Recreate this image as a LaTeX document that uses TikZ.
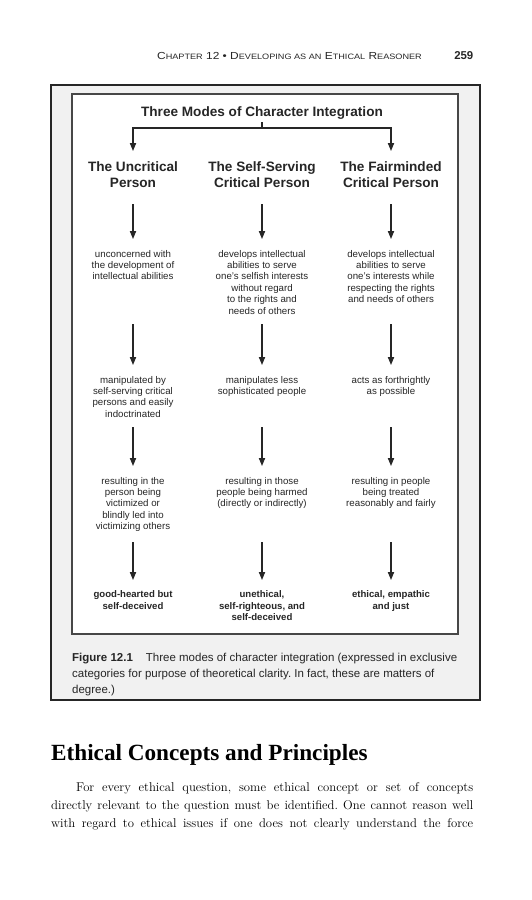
\documentclass[tikz,border=0pt]{standalone}
\usepackage{graphicx}
\usepackage{fontspec}
\usetikzlibrary{arrows.meta}
\newfontfamily\dsans{Liberation Sans}
\newfontfamily\dserif{Liberation Serif}
\definecolor{framegray}{HTML}{F1F1F1}
\definecolor{ink}{HTML}{262626}
\newcommand\hsmc[1]{{\fontsize{7.8}{9}\selectfont #1}}
\frenchspacing
\begin{document}
\begin{tikzpicture}[x=1pt,y=-1pt,
  every node/.style={inner sep=0pt},
  arr/.style={draw=ink, line width=1.2pt, -{Triangle[length=8pt,width=6.2pt]}},
  link/.style={draw=ink, line width=1.2pt},
  head/.style={font=\dsans\fontsize{13.6}{16}\selectfont\bfseries, align=center, anchor=north, outer ysep=11pt, text=ink},
  body/.style={font=\dsans\fontsize{9.7}{11.45}\selectfont, align=center, anchor=north, outer ysep=11pt, text=ink},
  fin/.style={body, font=\dsans\fontsize{9.6}{11.3}\selectfont\bfseries},
  para/.style={anchor=base west, font=\fontsize{12.7}{17.8}\selectfont, text=black},
]
\useasboundingbox (0,0) rectangle (531,900);
\fill[white] (0,0) rectangle (531,900);

% running head
\node[anchor=base west, font=\dsans\fontsize{10.2}{12}\selectfont, text=ink] (runhead) at (157,59.3)
  {\scalebox{1.17}[1]{C\hsmc{HAPTER} 12 • D\hsmc{EVELOPING AS AN} E\hsmc{THICAL} R\hsmc{EASONER}}};
\node[anchor=base east, font=\dsans\fontsize{11.4}{12}\selectfont\bfseries, text=ink] (pg) at (473.5,59.3) {259};

% frames
\draw[fill=framegray, draw=ink, line width=1.3pt] (51,85) rectangle (480,700);
\draw[fill=white, draw=ink!85, line width=1.2pt] (72,94) rectangle (458,634);

% title and branching
\node[font=\dsans\fontsize{13.6}{16}\selectfont\bfseries, anchor=base, outer ysep=2.5pt, text=ink] (title) at (262,116.7) {Three Modes of Character Integration};
\coordinate (j) at (262,128);

\node[head] (h1) at (133,151) {The Uncritical\\Person};
\node[head] (h2) at (262,151) {The Self-Serving\\Critical Person};
\node[head] (h3) at (391,151) {The Fairminded\\Critical Person};

\draw[link] (title.south) -- (j);
\draw[arr] (j) -| (h1.north);
\draw[arr] (j) -| (h3.north);

% row 1
\node[body] (u1) at (133,239) {unconcerned with\\the development of\\intellectual abilities};
\node[body] (s1) at (262,239) {develops intellectual\\abilities to serve\\one’s selfish interests\\without regard\\to the rights and\\needs of others};
\node[body] (f1) at (391,239) {develops intellectual\\abilities to serve\\one’s interests while\\respecting the rights\\and needs of others};

% row 2
\node[body] (u2) at (133,365) {manipulated by\\self-serving critical\\persons and easily\\indoctrinated};
\node[body] (s2) at (262,365) {manipulates less\\sophisticated people};
\node[body] (f2) at (391,365) {acts as forthrightly\\as possible};

% row 3
\node[body] (u3) at (133,466) {resulting in the\\person being\\victimized or\\blindly led into\\victimizing others};
\node[body] (s3) at (262,466) {resulting in those\\people being harmed\\(directly or indirectly)};
\node[body] (f3) at (391,466) {resulting in people\\being treated\\reasonably and fairly};

% row 4
\node[fin] (u4) at (133,580) {good-hearted but\\self-deceived};
\node[fin] (s4) at (262,580) {unethical,\\self-righteous, and\\self-deceived};
\node[fin] (f4) at (391,580) {ethical, empathic\\and just};

% arrow starts
\coordinate (a1u) at (133,204); \coordinate (a1s) at (262,204); \coordinate (a1f) at (391,204);
\coordinate (a2u) at (133,324); \coordinate (a2s) at (262,324); \coordinate (a2f) at (391,324);
\coordinate (a3u) at (133,427); \coordinate (a3s) at (262,427); \coordinate (a3f) at (391,427);
\coordinate (a4u) at (133,542); \coordinate (a4s) at (262,542); \coordinate (a4f) at (391,542);

\draw[arr] (a1u) -- (u1.north); \draw[arr] (a1s) -- (s1.north); \draw[arr] (a1f) -- (f1.north);
\draw[arr] (a2u) -- (u2.north); \draw[arr] (a2s) -- (s2.north); \draw[arr] (a2f) -- (f2.north);
\draw[arr] (a3u) -- (u3.north); \draw[arr] (a3s) -- (s3.north); \draw[arr] (a3f) -- (f3.north);
\draw[arr] (a4u) -- (u4.north); \draw[arr] (a4s) -- (s4.north); \draw[arr] (a4f) -- (f4.north);

% caption
\node[anchor=north west, align=left, font=\dsans\fontsize{11.5}{15.8}\selectfont, text=ink] (cap) at (72,653.3)
  {\textbf{Figure 12.1}\hspace{13pt}Three modes of character integration (expressed in exclusive\\categories for purpose of theoretical clarity. In fact, these are matters of\\degree.)};

% section heading and text
\node[anchor=base west, font=\dserif\fontsize{23.2}{26}\selectfont\bfseries, text=black] (sec) at (51,760) {Ethical Concepts and Principles};
\node[para] (p1) at (76,791.7) {\makebox[397pt][s]{For every ethical question, some ethical concept or set of concepts}};
\node[para] (p2) at (51,809.3) {\makebox[422pt][s]{directly relevant to the question must be identified. One cannot reason well}};
\node[para] (p3) at (51,827.3) {\makebox[422pt][s]{with regard to ethical issues if one does not clearly understand the force}};
\end{tikzpicture}
\end{document}
